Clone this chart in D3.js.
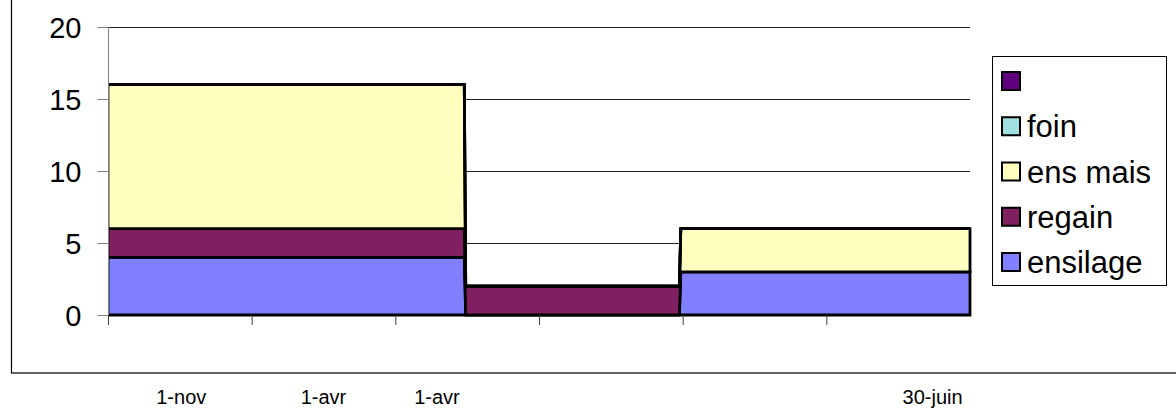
<!DOCTYPE html>
<html>
<head>
<meta charset="utf-8">
<script src="https://cdn.jsdelivr.net/npm/d3@7"></script>
<style>
  html, body { margin: 0; padding: 0; background: #fff; }
  svg { display: block; font-family: "Liberation Sans", Arial, sans-serif; }
</style>
</head>
<body>
<svg id="chart" width="1176" height="409"></svg>
<script>
// Feed rations per period (stacked), period units along x
const xPos     = [0, 2.48, 2.49, 3.977, 3.987, 6];
const ensilage = [4, 4, 0, 0, 3, 3];
const regain   = [2, 2, 2, 2, 0, 0];
const ensMais  = [10, 10, 0, 0, 3, 3];
const foin     = [0, 0, 0, 0, 0, 0];
const serie5   = [0, 0, 0, 0, 0, 0];

const seriesKeys   = ["ensilage", "regain", "ens mais", "foin", ""];
const seriesColors = ["#8080FF", "#802060", "#FFFFC0", "#A0E0E0", "#600080"];
const yTicks       = [0, 5, 10, 15, 20];
const xTicks       = [0, 1, 2, 3, 4, 5];
const dateLabels   = ["1-nov", "1-avr", "1-avr", "30-juin"];
const dateAt       = [0.51, 1.5, 2.29, 5.74];

const rows = xPos.map((x, i) => ({
  x,
  "ensilage": ensilage[i],
  "regain": regain[i],
  "ens mais": ensMais[i],
  "foin": foin[i],
  "": serie5[i]
}));

const svg = d3.select("#chart");

// outer chart frame
svg.append("rect")
  .attr("x", 11.5).attr("y", -10)
  .attr("width", 1300).attr("height", 383)
  .attr("fill", "none").attr("stroke", "#000").attr("stroke-width", 1.2);

const x = d3.scaleLinear().domain([0, 6]).range([108, 970]);
const y = d3.scaleLinear().domain([0, 20]).range([315, 27]);

// keep area outlines from spilling left of the value axis
svg.append("defs").append("clipPath").attr("id", "plotClip")
  .append("rect")
  .attr("x", x(0)).attr("y", 0)
  .attr("width", 1000).attr("height", 330);

// gridlines
svg.append("g").selectAll("line")
  .data(yTicks.filter(t => t > 0))
  .join("line")
  .attr("x1", x(0)).attr("x2", x(6))
  .attr("y1", d => Math.round(y(d)) + 0.5).attr("y2", d => Math.round(y(d)) + 0.5)
  .attr("stroke", "#222").attr("stroke-width", 1);

// stacked areas
const stack = d3.stack().keys(seriesKeys);
const layers = stack(rows);
const area = d3.area()
  .x(d => x(d.data.x))
  .y0(d => y(d[0]))
  .y1(d => y(d[1]));

svg.append("g").attr("clip-path", "url(#plotClip)")
  .selectAll("path")
  .data(layers)
  .join("path")
  .attr("d", area)
  .attr("fill", (d, i) => seriesColors[i])
  .attr("stroke", "#000")
  .attr("stroke-width", 2.8)
  .attr("stroke-linejoin", "miter");

// y axis
const yAxis = d3.axisLeft(y).tickValues(yTicks).tickSize(11).tickPadding(16);
const gy = svg.append("g").attr("transform", "translate(108.5,0)").call(yAxis);
gy.select(".domain").attr("stroke", "#808080").attr("d", `M0,${y(20)}V${y(0)}`);
gy.selectAll(".tick line").attr("stroke", "#808080");
gy.selectAll(".tick text")
  .attr("font-size", 29)
  .attr("font-family", "Liberation Sans, Arial, sans-serif")
  .attr("fill", "#000")
  .attr("dy", "0.36em");

// x axis ticks
const xAxis = d3.axisBottom(x).tickValues(xTicks).tickSize(10).tickFormat("");
const gx = svg.append("g").attr("transform", "translate(0,315)").call(xAxis);
gx.select(".domain").remove();
gx.selectAll(".tick line").attr("stroke", "#404040");

// date labels under the frame
svg.append("g").selectAll("text")
  .data(dateLabels)
  .join("text")
  .attr("x", (d, i) => x(dateAt[i]))
  .attr("y", 404)
  .attr("text-anchor", "middle")
  .attr("font-size", 20)
  .attr("fill", "#000")
  .text(d => d);

// legend
const legend = svg.append("g");
legend.append("rect")
  .attr("x", 992.5).attr("y", 56.5)
  .attr("width", 174).attr("height", 229)
  .attr("fill", "#fff").attr("stroke", "#000").attr("stroke-width", 1);

const legendOrder = seriesKeys.map((k, i) => i).reverse();
const ly = d3.scalePoint().domain(legendOrder).range([81, 262]);
const items = legend.selectAll("g.item")
  .data(legendOrder)
  .join("g")
  .attr("class", "item")
  .attr("transform", i => `translate(0,${ly(i)})`);
items.append("rect")
  .attr("x", 1002).attr("y", -9)
  .attr("width", 18).attr("height", 18)
  .attr("fill", i => seriesColors[i])
  .attr("stroke", "#000").attr("stroke-width", 2);
items.append("text")
  .attr("x", 1027).attr("y", 0).attr("dy", "0.36em")
  .attr("font-size", 31)
  .attr("fill", "#000")
  .text(i => seriesKeys[i]);
</script>
</body>
</html>
